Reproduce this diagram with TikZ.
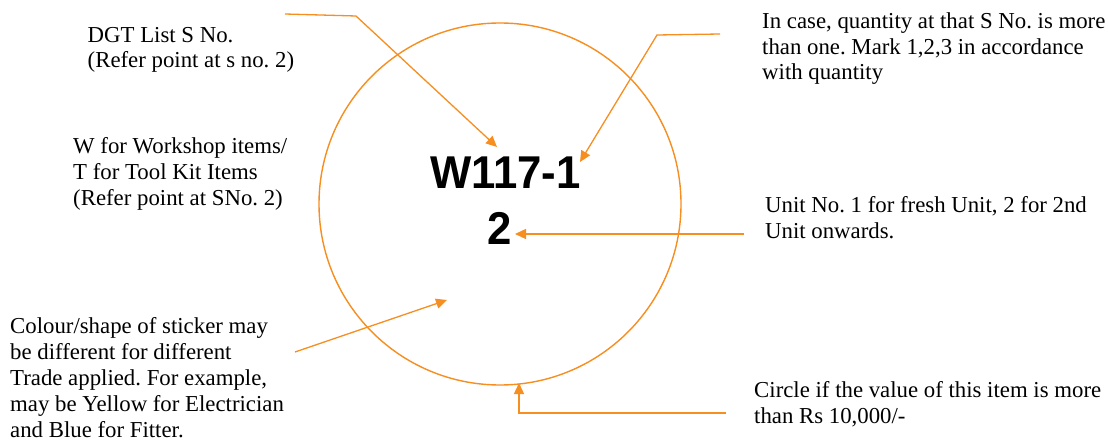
\documentclass[tikz,border=0pt]{standalone}
\usepackage{fontspec}
\setmainfont{Liberation Serif}
\newfontfamily\codefont{Liberation Sans}[FakeStretch=0.95]
\usetikzlibrary{arrows.meta}
\definecolor{tagorange}{RGB}{246,142,32}
\frenchspacing

\begin{document}
\begin{tikzpicture}[x=1pt, y=-1pt,
    note/.style={anchor=base west, inner sep=0pt, align=left, font=\fontsize{22.8}{25.8}\selectfont},
    code/.style={anchor=base, inner sep=0pt, font=\codefont\bfseries\fontsize{46}{46}\selectfont},
    sticker/.style={circle, draw=tagorange, line width=1.4pt, inner sep=0pt, minimum size=362pt},
    pointer/.style={draw=tagorange, line width=1.3pt, -{Triangle[length=11pt, width=10pt]}}]
  \useasboundingbox (0,0) rectangle (1108,441);
  % the sticker and what is written on it
  \node[sticker] (tag)    at (500,204)   {};
  \node[code]    (code)   at (505.5,188) {W117-1};
  \node[code]    (unitno) at (499.5,244) {2};

  % notes round the sticker, placed at the baseline of their last line
  \node[note] (dgt)   at (87.5,68) {DGT List S No.\\(Refer point at s no. 2)};
  \node[note] (wt)    at (73,205)  {W for Workshop items/\\T for Tool Kit Items\\(Refer point at SNo. 2)};
  \node[note] (trade) at (10,437)  {Colour/shape of sticker may\\be different for different\\Trade applied. For example,\\may be Yellow for Electrician\\and Blue for Fitter.};
  \node[note] (qty)   at (762,80)  {In case, quantity at that S No. is more\\than one. Mark 1,2,3 in accordance\\with quantity};
  \node[note] (unit)  at (765,238) {Unit No. 1 for fresh Unit, 2 for 2nd\\Unit onwards.};
  \node[note] (value) at (754,423) {Circle if the value of this item is more\\than Rs 10,000/-};

  % bends and ends of the pointers
  \coordinate (dgt-a)   at (285,14);
  \coordinate (dgt-b)   at (356,16);
  \coordinate (dgt-tip) at (497,147);
  \coordinate (qty-a)   at (720,34);
  \coordinate (qty-b)   at (657,35);
  \coordinate (qty-tip) at (580,162);
  \coordinate (trade-a)   at (295,352);
  \coordinate (trade-tip) at (447,300);
  \coordinate (unit-a)   at (744,234);
  \coordinate (unit-tip) at (515,234);
  \coordinate (value-a)   at (726,413);
  \coordinate (value-b)   at (519,413);
  \coordinate (value-tip) at (519,383);

  \draw[pointer] (dgt-a) -- (dgt-b) -- (dgt-tip);
  \draw[pointer] (qty-a) -- (qty-b) -- (qty-tip);
  \draw[pointer] (trade-a) -- (trade-tip);
  \draw[pointer] (unit-a) -- (unit-tip);
  \draw[pointer] (value-a) -- (value-b) -- (value-tip);
\end{tikzpicture}
\end{document}
